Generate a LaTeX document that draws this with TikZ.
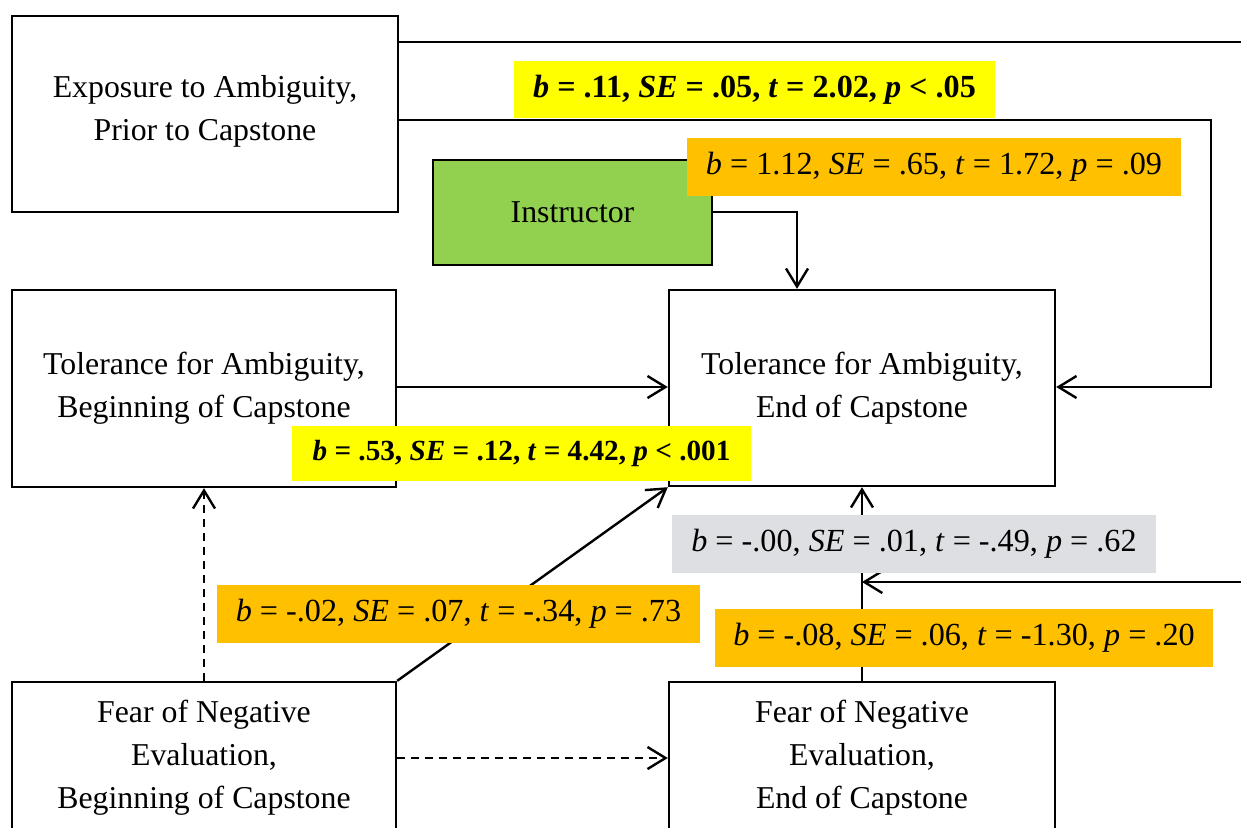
\documentclass[tikz,border=0pt]{standalone}
\usepackage{fontspec}
\setmainfont{Liberation Serif}
\usetikzlibrary{arrows.meta}
\definecolor{boxgreen}{HTML}{92D050}
\definecolor{lblorange}{HTML}{FFC000}
\definecolor{lblyellow}{HTML}{FFFF00}
\definecolor{lblgray}{HTML}{DEDFE3}
\tikzset{
  varbox/.style={draw=black, line width=1.2pt, align=center, inner sep=0pt,
    font=\fontsize{15.9}{21.5}\selectfont},
  lbl/.style={inner sep=0pt, align=center, font=\fontsize{16.1}{18}\selectfont},
  lblbold/.style={lbl, font=\fontsize{16.1}{18}\selectfont\bfseries},
  arr/.style={line width=1.2pt, -{Straight Barb[length=9pt,width=11pt,line width=1.2pt]}},
  plain/.style={line width=1.2pt},
  dsh/.style={dash pattern=on 4pt off 3pt},
}
\begin{document}
\begin{tikzpicture}[x=0.5pt,y=-0.5pt]
\useasboundingbox (0,0) rectangle (1241,827);
\clip (0,0) rectangle (1241,827);
% boxes
\node[varbox, minimum width=193pt, minimum height=98pt] (exp) at (205,114) {Exposure to Ambiguity,\\Prior to Capstone\\[-15pt]};
\node[varbox, fill=boxgreen, minimum width=139.5pt, minimum height=52.5pt] (instr) at (572.5,212.5) {Instructor};
\node[varbox, minimum width=192pt, minimum height=98.5pt] (tfaB) at (204,388.5) {Tolerance for Ambiguity,\\Beginning of Capstone};
\node[varbox, minimum width=193pt, minimum height=98pt] (tfaE) at (862,388) {Tolerance for Ambiguity,\\End of Capstone};
\node[varbox, minimum width=192pt, minimum height=76pt] (fneB) at (204,758) {Fear of Negative\\Evaluation,\\Beginning of Capstone};
\node[varbox, minimum width=193pt, minimum height=76pt] (fneE) at (862,758) {Fear of Negative\\Evaluation,\\End of Capstone};
% coordinates
\coordinate (r1) at (1241,42);
\coordinate (c1) at (1211,120);
\coordinate (c2) at (1211,387);
\coordinate (c3) at (797,212);
\coordinate (r2) at (1241,582);
% connectors
\draw[plain] (exp.east |- r1) -- (r1);
\draw[arr] (exp.east |- c1) -- (c1) -- (c2) -- (tfaE.east |- c2);
\draw[arr] (instr.east |- c3) -- (c3) -- (c3 |- tfaE.north);
\draw[arr] (tfaB.east |- c2) -- (tfaE.west |- c2);
\draw[arr, dsh] (fneB.north) -- (tfaB.south);
\draw[arr] (fneB.north east) -- (tfaE.south west);
\draw[arr] (fneE.north) -- (tfaE.south);
\draw[arr] (r2) -- (r2 -| fneE.north);
\draw[arr, dsh] (fneB.east) -- (fneE.west);
% labels
\node[lblbold, fill=lblyellow, minimum width=240.5pt, minimum height=28.5pt] (l1) at (754.5,89.5) {\textit{b} = .11, \textit{SE} = .05, \textit{t} = 2.02, \textit{p} < .05};
\node[lbl, fill=lblorange, minimum width=247pt, minimum height=29pt] (l2) at (934,167) {\textit{b} = 1.12, \textit{SE} = .65, \textit{t} = 1.72, \textit{p} = .09};
\node[lblbold, font=\fontsize{14.6}{18}\selectfont\bfseries, fill=lblyellow, minimum width=229.5pt, minimum height=27.5pt] (l3) at (521.5,453.5) {\textit{b} = .53, \textit{SE} = .12, \textit{t} = 4.42, \textit{p} < .001};
\node[lbl, fill=lblgray, minimum width=242pt, minimum height=29pt] (l4) at (914,544) {\textit{b} = -.00, \textit{SE} = .01, \textit{t} = -.49, \textit{p} = .62};
\node[lbl, fill=lblorange, minimum width=241.5pt, minimum height=29pt] (l5) at (458.5,614) {\textit{b} = -.02, \textit{SE} = .07, \textit{t} = -.34, \textit{p} = .73};
\node[lbl, fill=lblorange, minimum width=249pt, minimum height=29pt] (l6) at (964,638) {\textit{b} = -.08, \textit{SE} = .06, \textit{t} = -1.30, \textit{p} = .20};
\end{tikzpicture}
\end{document}
